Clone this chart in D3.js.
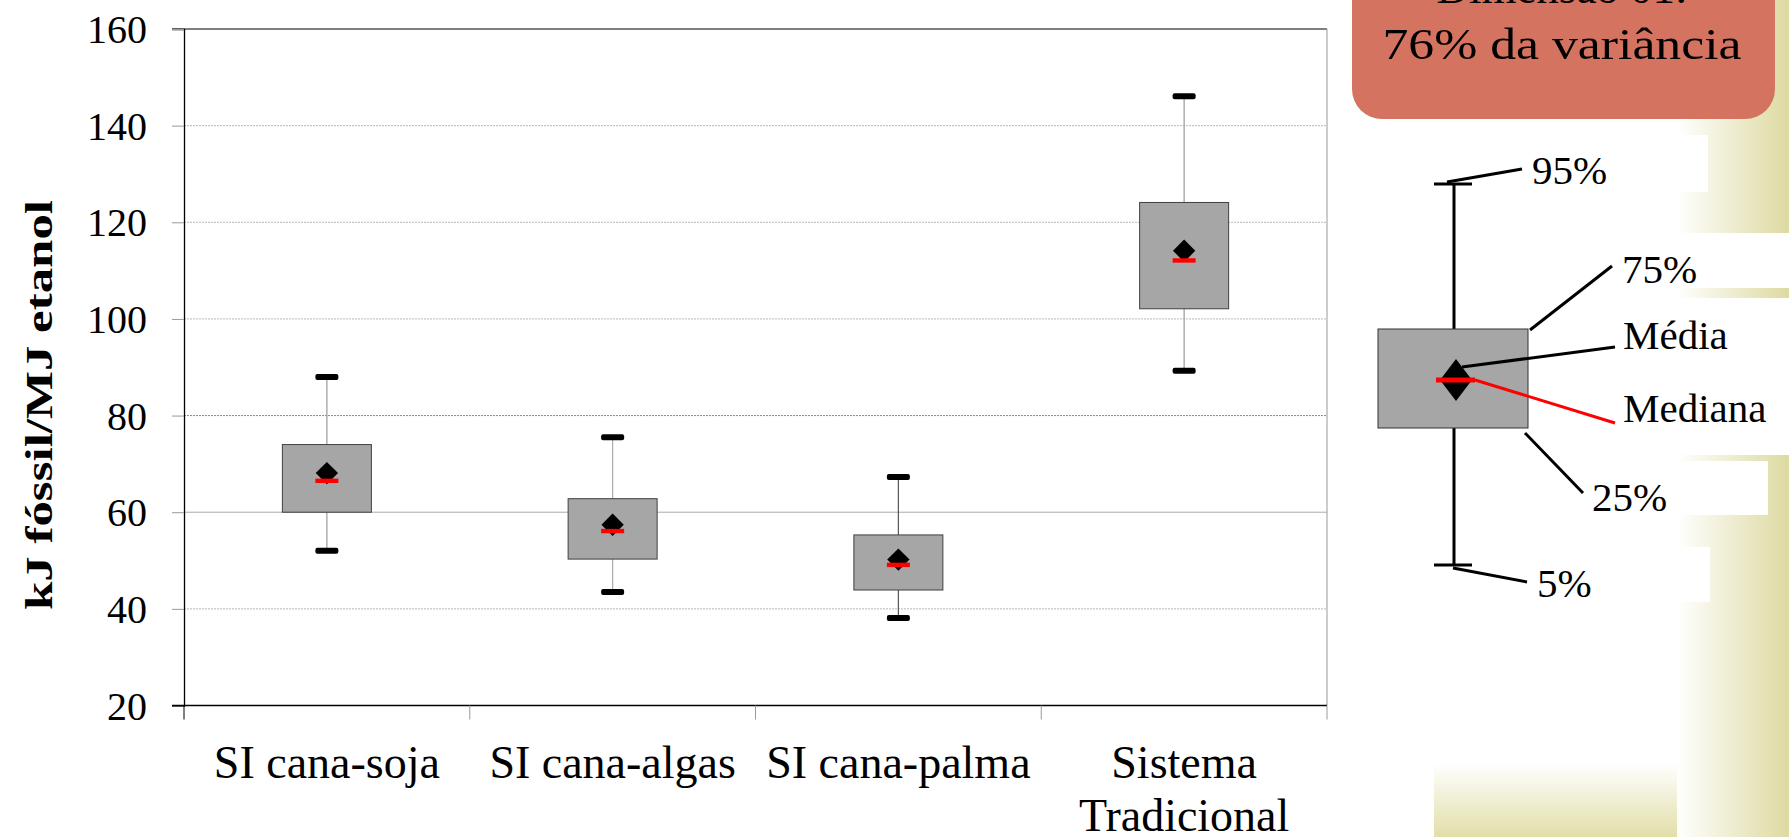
<!DOCTYPE html>
<html><head><meta charset="utf-8">
<script src="https://cdn.jsdelivr.net/npm/d3@7"></script>
<style>html,body{margin:0;padding:0;background:#fff;overflow:hidden}</style>
</head><body>
<svg id="c" width="1789" height="837"></svg>
<script>
// ---- data ----
const categories = ["SI cana-soja", "SI cana-algas", "SI cana-palma", "Sistema Tradicional"];
const categoryLines = [["SI cana-soja"], ["SI cana-algas"], ["SI cana-palma"], ["Sistema", "Tradicional"]];
const p5     = [52.0, 43.5, 38.1, 89.3];
const p25    = [60.0, 50.3, 43.9, 102.1];
const median = [66.5, 56.1, 49.1, 112.1];
const mean   = [68.1, 57.4, 50.2, 114.1];
const p75    = [74.0, 62.8, 55.3, 124.1];
const p95    = [88.0, 75.5, 67.3, 146.1];
const yTicks = [20, 40, 60, 80, 100, 120, 140, 160];
const yLabel = "kJ fóssil/MJ etanol";
const boxTitle = ["Dimensão 01:", "76% da variância"];
const legendLabels = ["95%", "75%", "Média", "Mediana", "25%", "5%"];

(function () {
const svg = d3.select("#c");
const serif = "'Liberation Serif','Times New Roman',serif";

// ---- slide background (gradient strips + white text boxes) ----
const defs = svg.append("defs");
const gH = defs.append("linearGradient").attr("id", "gH").attr("x1", 0).attr("x2", 1).attr("y1", 0).attr("y2", 0);
gH.append("stop").attr("offset", 0).attr("stop-color", "#ffffff");
gH.append("stop").attr("offset", 1).attr("stop-color", "#DEDAA2");
const gV = defs.append("linearGradient").attr("id", "gV").attr("x1", 0).attr("x2", 0).attr("y1", 0).attr("y2", 1);
gV.append("stop").attr("offset", 0).attr("stop-color", "#ffffff");
gV.append("stop").attr("offset", 1).attr("stop-color", "#E2DEA8");
svg.append("rect").attr("x", 1434).attr("y", 763).attr("width", 355).attr("height", 74).attr("fill", "url(#gV)");
svg.append("rect").attr("x", 1677).attr("y", 0).attr("width", 112).attr("height", 837).attr("fill", "url(#gH)");
[[135, 57, 1708], [233, 55, 1789], [298, 157, 1789], [461, 54, 1768], [547, 55, 1710]].forEach(([y0, h, x1]) => {
  svg.append("rect").attr("x", 1600).attr("y", y0).attr("width", x1 - 1600).attr("height", h).attr("fill", "#fff");
});

// ---- salmon title box ----
svg.append("rect").attr("x", 1352).attr("y", -60).attr("width", 423).attr("height", 179).attr("rx", 30)
  .attr("fill", "#D4735F");
svg.append("text").attr("x", 1562).attr("y", 3).attr("text-anchor", "middle")
  .attr("font-family", serif).attr("font-size", 45).attr("fill", "#000").text(boxTitle[0]);
svg.append("text").attr("x", 1562).attr("y", 59).attr("text-anchor", "middle")
  .attr("font-family", serif).attr("font-size", 45).attr("fill", "#000")
  .attr("textLength", 359).attr("lengthAdjust", "spacingAndGlyphs").text(boxTitle[1]);

// ---- scales ----
const pl = 184, pr = 1327, pt = 29, pb = 705.5;
const x = d3.scaleBand().domain(categories).range([pl, pr]);
const y = d3.scaleLinear().domain([20, 160]).range([pb, pt]);

// gridlines
const g = svg.append("g");
g.selectAll("line.grid").data(yTicks.filter(v => v > 20 && v < 160)).join("line")
  .attr("class", "grid")
  .attr("x1", pl).attr("x2", pr).attr("y1", d => y(d)).attr("y2", d => y(d))
  .attr("stroke", d => d === 60 ? "#aaaaaa" : (d === 80 ? "#888" : "#b8b8b8"))
  .attr("stroke-width", 1)
  .attr("stroke-dasharray", d => d === 60 ? null : "2,1");

// top border & right border
g.append("line").attr("x1", pl - 12).attr("x2", pr).attr("y1", y(160)).attr("y2", y(160)).attr("stroke", "#000").attr("stroke-width", 1);
g.append("line").attr("x1", pr).attr("x2", pr).attr("y1", pt).attr("y2", pb).attr("stroke", "#999").attr("stroke-width", 1);

// y axis
const yAxis = d3.axisLeft(y).tickValues(yTicks).tickSize(12).tickPadding(25).tickFormat(d3.format("d"));
const ya = svg.append("g").attr("transform", `translate(${pl},0)`).call(yAxis);
ya.select(".domain").attr("stroke", "#000").attr("stroke-width", 1.3);
ya.selectAll(".tick line").attr("stroke", "#999");
ya.selectAll(".tick text").attr("font-family", serif).attr("font-size", 40).attr("fill", "#000").attr("dy", "0.34em");

// x axis
const xa = svg.append("g").attr("transform", `translate(0,${pb})`);
xa.append("line").attr("x1", pl - 12).attr("x2", pr).attr("y1", 0).attr("y2", 0).attr("stroke", "#000").attr("stroke-width", 1.3);
const bounds = categories.map(c => x(c)).concat([x.range()[1]]);
xa.selectAll("line.xt").data(bounds).join("line").attr("class", "xt")
  .attr("x1", d => d).attr("x2", d => d).attr("y1", 0).attr("y2", 14)
  .attr("stroke", (d, i) => i === 0 ? "#000" : "#999").attr("stroke-width", 1);
categories.forEach((c, i) => {
  const t = xa.append("text").attr("text-anchor", "middle").attr("font-family", serif)
    .attr("font-size", 46).attr("fill", "#000");
  categoryLines[i].forEach((ln, j) => {
    t.append("tspan").attr("x", x(c) + x.bandwidth() / 2).attr("y", 72 + j * 53).text(ln);
  });
});

// y label
svg.append("text").attr("transform", "translate(52,405) rotate(-90)").attr("text-anchor", "middle")
  .attr("font-family", serif).attr("font-weight", "bold").attr("font-size", 37).attr("fill", "#000")
  .attr("textLength", 410).attr("lengthAdjust", "spacingAndGlyphs").text(yLabel);

// ---- boxes ----
const boxW = 89, capW = 23, capH = 6;
const cx = i => x(categories[i]) + x.bandwidth() / 2;
const whiskerColor = ["#999", "#aaa", "#555", "#999"];
const bg = svg.append("g");
categories.forEach((c, i) => {
  const X = cx(i);
  bg.append("line").attr("x1", X).attr("x2", X).attr("y1", y(p95[i])).attr("y2", y(p5[i]))
    .attr("stroke", whiskerColor[i]).attr("stroke-width", 1.2);
  bg.append("rect").attr("x", X - boxW / 2).attr("y", y(p75[i])).attr("width", boxW)
    .attr("height", y(p25[i]) - y(p75[i])).attr("fill", "#A6A6A6").attr("stroke", "#404040").attr("stroke-width", 1);
  [p95[i], p5[i]].forEach(v => {
    bg.append("rect").attr("x", X - capW / 2).attr("y", y(v) - capH / 2).attr("width", capW).attr("height", capH)
      .attr("rx", 2).attr("fill", "#000");
  });
  bg.append("path").attr("d", d3.symbol().type(d3.symbolSquare).size(250)())
    .attr("transform", `translate(${X},${y(mean[i])}) rotate(45)`).attr("fill", "#000");
  bg.append("rect").attr("x", X - 11.5).attr("y", y(median[i]) - 2.2).attr("width", 23).attr("height", 4.4).attr("fill", "#FF0000");
});

// ---- legend illustration ----
const L = svg.append("g");
const lx = 1454;
L.append("line").attr("x1", lx).attr("x2", lx).attr("y1", 184).attr("y2", 565).attr("stroke", "#000").attr("stroke-width", 3);
L.append("line").attr("x1", 1434).attr("x2", 1472).attr("y1", 184).attr("y2", 184).attr("stroke", "#000").attr("stroke-width", 3);
L.append("line").attr("x1", 1434).attr("x2", 1472).attr("y1", 565).attr("y2", 565).attr("stroke", "#000").attr("stroke-width", 3);
L.append("rect").attr("x", 1378).attr("y", 329).attr("width", 150).attr("height", 99)
  .attr("fill", "#A6A6A6").attr("stroke", "#333").attr("stroke-width", 1);
L.append("path").attr("d", "M1456,359 L1472,380 L1456,401 L1440,380 Z").attr("fill", "#000");
L.append("line").attr("x1", 1436).attr("x2", 1475).attr("y1", 380).attr("y2", 380).attr("stroke", "#FF0000").attr("stroke-width", 5);
const leaders = [
  [1447, 182, 1522, 169, "#000"],
  [1530, 330, 1612, 266, "#000"],
  [1462, 367, 1615, 347, "#000"],
  [1475, 380, 1615, 423, "#FF0000"],
  [1525, 433, 1583, 493, "#000"],
  [1453, 568, 1527, 582, "#000"]
];
leaders.forEach(([a, b, c2, d, col]) => {
  L.append("line").attr("x1", a).attr("y1", b).attr("x2", c2).attr("y2", d).attr("stroke", col).attr("stroke-width", 3);
});
const labelPos = [[1532, 184], [1622, 283], [1623, 349], [1623, 422], [1592, 511], [1537, 597]];
legendLabels.forEach((t, i) => {
  L.append("text").attr("x", labelPos[i][0]).attr("y", labelPos[i][1]).attr("font-family", serif)
    .attr("font-size", 41).attr("fill", "#000").text(t);
});
})();
</script>
</body></html>
